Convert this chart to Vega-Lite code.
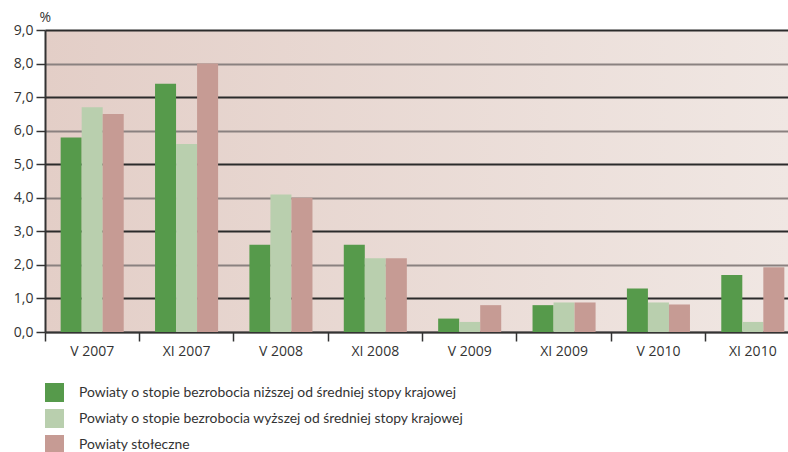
{
  "$schema": "https://vega.github.io/schema/vega-lite/v6.json",
  "width": 743,
  "height": 302,
  "autosize": "none",
  "padding": {"left": 45, "top": 30, "right": 0, "bottom": 120},
  "background": "white",
  "config": {
    "font": "Open Sans",
    "view": {
      "stroke": null,
      "fill": {"gradient": "linear", "x1": 0, "y1": 0, "x2": 1, "y2": 0,
        "stops": [{"offset": 0, "color": "#e3cec7"}, {"offset": 1, "color": "#f0e7e3"}]}
    }
  },
  "data": {
    "values": [
      {"okres": "V 2007", "seria": "Powiaty o stopie bezrobocia niższej od średniej stopy krajowej", "wartosc": 5.8},
      {"okres": "V 2007", "seria": "Powiaty o stopie bezrobocia wyższej od średniej stopy krajowej", "wartosc": 6.7},
      {"okres": "V 2007", "seria": "Powiaty stołeczne", "wartosc": 6.5},
      {"okres": "XI 2007", "seria": "Powiaty o stopie bezrobocia niższej od średniej stopy krajowej", "wartosc": 7.4},
      {"okres": "XI 2007", "seria": "Powiaty o stopie bezrobocia wyższej od średniej stopy krajowej", "wartosc": 5.6},
      {"okres": "XI 2007", "seria": "Powiaty stołeczne", "wartosc": 8.0},
      {"okres": "V 2008", "seria": "Powiaty o stopie bezrobocia niższej od średniej stopy krajowej", "wartosc": 2.6},
      {"okres": "V 2008", "seria": "Powiaty o stopie bezrobocia wyższej od średniej stopy krajowej", "wartosc": 4.1},
      {"okres": "V 2008", "seria": "Powiaty stołeczne", "wartosc": 4.0},
      {"okres": "XI 2008", "seria": "Powiaty o stopie bezrobocia niższej od średniej stopy krajowej", "wartosc": 2.6},
      {"okres": "XI 2008", "seria": "Powiaty o stopie bezrobocia wyższej od średniej stopy krajowej", "wartosc": 2.2},
      {"okres": "XI 2008", "seria": "Powiaty stołeczne", "wartosc": 2.2},
      {"okres": "V 2009", "seria": "Powiaty o stopie bezrobocia niższej od średniej stopy krajowej", "wartosc": 0.4},
      {"okres": "V 2009", "seria": "Powiaty o stopie bezrobocia wyższej od średniej stopy krajowej", "wartosc": 0.3},
      {"okres": "V 2009", "seria": "Powiaty stołeczne", "wartosc": 0.8},
      {"okres": "XI 2009", "seria": "Powiaty o stopie bezrobocia niższej od średniej stopy krajowej", "wartosc": 0.8},
      {"okres": "XI 2009", "seria": "Powiaty o stopie bezrobocia wyższej od średniej stopy krajowej", "wartosc": 0.88},
      {"okres": "XI 2009", "seria": "Powiaty stołeczne", "wartosc": 0.88},
      {"okres": "V 2010", "seria": "Powiaty o stopie bezrobocia niższej od średniej stopy krajowej", "wartosc": 1.3},
      {"okres": "V 2010", "seria": "Powiaty o stopie bezrobocia wyższej od średniej stopy krajowej", "wartosc": 0.88},
      {"okres": "V 2010", "seria": "Powiaty stołeczne", "wartosc": 0.82},
      {"okres": "XI 2010", "seria": "Powiaty o stopie bezrobocia niższej od średniej stopy krajowej", "wartosc": 1.7},
      {"okres": "XI 2010", "seria": "Powiaty o stopie bezrobocia wyższej od średniej stopy krajowej", "wartosc": 0.3},
      {"okres": "XI 2010", "seria": "Powiaty stołeczne", "wartosc": 1.93}
    ]
  },
  "mark": {"type": "bar"},
  "encoding": {
    "x": {
      "field": "okres", "type": "nominal",
      "sort": ["V 2007", "XI 2007", "V 2008", "XI 2008", "V 2009", "XI 2009", "V 2010", "XI 2010"],
      "scale": {"range": [0, 755], "paddingInner": 0, "paddingOuter": 0},
      "axis": {
        "title": null, "labelAngle": 0, "bandPosition": 0,
        "tickSize": 9, "tickColor": "#333", "tickWidth": 1.5,
        "domainColor": "#333", "domainWidth": 2,
        "labelFontSize": 14, "labelColor": "#333", "labelPadding": 3, "grid": false
      }
    },
    "xOffset": {
      "field": "seria", "type": "nominal",
      "sort": ["Powiaty o stopie bezrobocia niższej od średniej stopy krajowej", "Powiaty o stopie bezrobocia wyższej od średniej stopy krajowej", "Powiaty stołeczne"],
      "scale": {"paddingInner": 0, "paddingOuter": 0.745}
    },
    "y": {
      "field": "wartosc", "type": "quantitative",
      "scale": {"domain": [0, 9], "nice": false},
      "axis": {
        "title": "%", "titleAngle": 0, "titleAlign": "left", "titleBaseline": "bottom",
        "titleX": -6, "titleY": -6, "titleFontSize": 14, "titleFontWeight": "normal", "titleColor": "#333",
        "values": [0, 1, 2, 3, 4, 5, 6, 7, 8, 9],
        "labelExpr": "replace(format(datum.value, '.1f'), '.', ',')",
        "labelFontSize": 14, "labelColor": "#333", "labelPadding": 3,
        "tickSize": 9, "tickColor": "#333", "tickWidth": 1.5,
        "domainColor": "#333", "domainWidth": 2,
        "grid": true, "gridWidth": 2,
        "gridColor": {"condition": {"test": "datum.value % 2 == 0", "value": "#8a8180"}, "value": "#2b2b2b"}
      }
    },
    "color": {
      "field": "seria", "type": "nominal",
      "scale": {
        "domain": ["Powiaty o stopie bezrobocia niższej od średniej stopy krajowej", "Powiaty o stopie bezrobocia wyższej od średniej stopy krajowej", "Powiaty stołeczne"],
        "range": ["#569a4b", "#b9cfae", "#c69b94"]
      },
      "legend": {
        "orient": "none", "legendX": 0, "legendY": 353, "direction": "vertical",
        "title": null, "symbolType": "square", "symbolSize": 361, "symbolStrokeWidth": 0,
        "symbolOpacity": 1,
        "labelFont": "Lato", "labelFontSize": 13.9, "labelColor": "#333", "labelLimit": 700,
        "rowPadding": 7, "labelOffset": 15
      }
    }
  }
}
